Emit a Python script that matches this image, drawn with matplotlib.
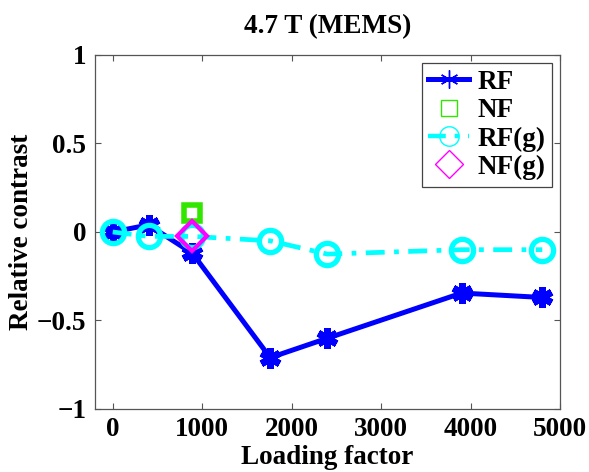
import matplotlib
matplotlib.use("Agg")
import matplotlib.pyplot as plt
from matplotlib.lines import Line2D

plt.rcParams['font.family'] = ['Liberation Serif', 'DejaVu Serif']
plt.rcParams['font.weight'] = 'bold'

# Loading factor values and relative contrast per series
rf_x = [0, 400, 890, 1760, 2400, 3900, 4800]
rf_y = [0.0, 0.04, -0.12, -0.71, -0.60, -0.345, -0.37]

nf_x = [890]
nf_y = [0.11]

rfg_x = [0, 400, 890, 1760, 2400, 3900, 4800]
rfg_y = [0.0, -0.025, -0.025, -0.05, -0.125, -0.10, -0.10]

nfg_x = [890]
nfg_y = [-0.025]

xticks = [0, 1000, 2000, 3000, 4000, 5000]
yticks = [-1, -0.5, 0, 0.5, 1]
ytick_labels = ['\u22121', '\u22120.5', '0', '0.5', '1']

blue = (0, 0, 1)
green = (0.2, 0.9, 0.0)
cyan = (0, 1, 1)
magenta = (1, 0, 1)
asterisk = (6, 2, 0)
fs = 19.5

fig = plt.figure(figsize=(5.89, 4.72), dpi=100)
ax = fig.add_axes([0.161, 0.1335, 0.790, 0.750])

ax.plot(rf_x, rf_y, color=blue, lw=3.6, marker=asterisk, ms=15, mew=5, zorder=3)
ax.plot(nf_x, nf_y, ls='none', marker='s', ms=12, mew=4, mfc='none', mec=green, zorder=4)
ax.plot(rfg_x, rfg_y, color=cyan, lw=3.4, dashes=(4, 2, 1, 2), marker='o', ms=16,
        mew=3.8, mfc='none', mec=cyan, zorder=4)
ax.plot(nfg_x, nfg_y, ls='none', marker='D', ms=15, mew=3, mfc='none', mec=magenta, zorder=5)

ax.set_xlim(-200, 5000)
ax.set_ylim(-1, 1)
ax.set_xticks(xticks)
ax.set_xticklabels([str(v) for v in xticks])
ax.set_yticks(yticks)
ax.set_yticklabels(ytick_labels)
ax.tick_params(direction='in', length=4, width=0.8, color='#555555', labelsize=fs,
               top=True, right=True, pad=6)
for lab in ax.get_xticklabels() + ax.get_yticklabels():
    lab.set_fontweight('bold')
for sp in ax.spines.values():
    sp.set_color('#555555')
    sp.set_linewidth(0.9)

ax.set_title('4.7 T (MEMS)', fontsize=fs, fontweight='bold', pad=16)
ax.set_xlabel('Loading factor', fontsize=fs, fontweight='bold', labelpad=2)
ax.set_ylabel('Relative contrast', fontsize=fs, fontweight='bold', labelpad=2)

handles = [
    Line2D([], [], color=blue, lw=3.6, marker=asterisk, ms=13, mew=1),
    Line2D([], [], ls='none', marker='s', ms=11, mew=1, mfc='none', mec=green),
    Line2D([], [], color=cyan, lw=3.2, dashes=(4, 2, 1, 2), marker='o', ms=14, mew=1,
           mfc='none', mec=cyan),
    Line2D([], [], ls='none', marker='D', ms=14, mew=1, mfc='none', mec=magenta),
]
leg = ax.legend(handles, ['RF', 'NF', 'RF(g)', 'NF(g)'], loc='upper right',
                prop={'size': fs, 'weight': 'bold'}, fancybox=False, framealpha=1,
                edgecolor='#444444', handlelength=1.5, handletextpad=0.3,
                labelspacing=0.12, borderpad=0.25, borderaxespad=0.3)
leg.get_frame().set_linewidth(0.9)

fig.savefig('out.png', dpi=100)
